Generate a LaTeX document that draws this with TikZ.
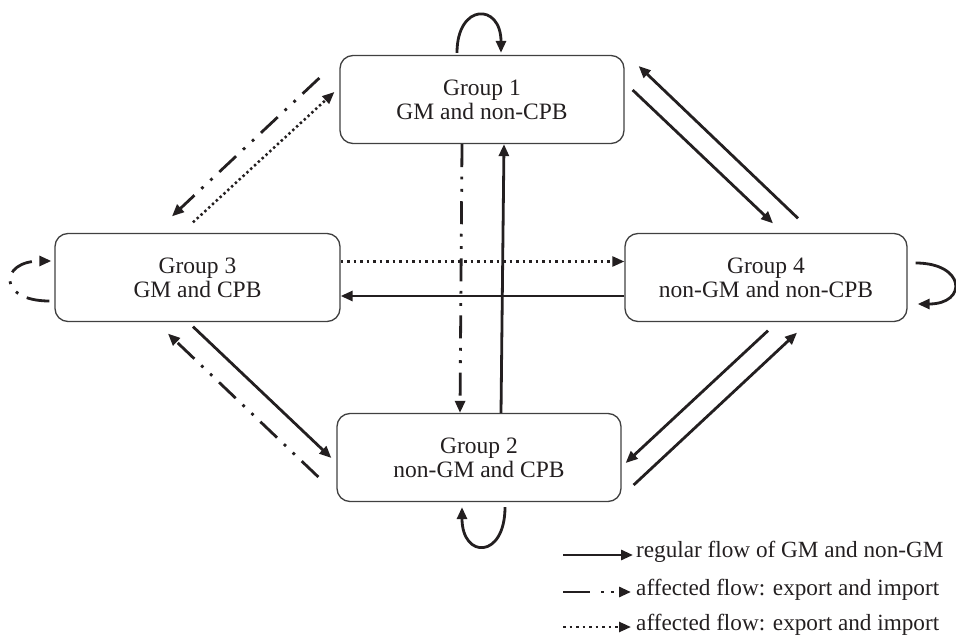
\documentclass[tikz,border=0pt]{standalone}
\usepackage{fontspec}
\setmainfont{Liberation Serif}
\usetikzlibrary{arrows.meta}
\definecolor{ink}{HTML}{231F20}
\definecolor{boxline}{HTML}{404040}
\tikzset{
  grp/.style={draw=boxline, line width=1.3pt, rounded corners=13pt,
    minimum width=284pt, minimum height=88pt, align=center,
    font=\fontsize{23.5}{24}\selectfont, text=ink, inner sep=0pt},
  flow/.style={draw=ink, line width=2.8pt, -{Triangle[length=12pt,width=10pt]}},
  solidflow/.style={flow},
  ddflow/.style={flow, dash pattern=on 23pt off 9.5pt on 2.8pt off 9.5pt on 2.8pt off 9.5pt},
  dotflow/.style={flow, line width=2.5pt, dash pattern=on 2.5pt off 4pt},
  dotdiag/.style={flow, line width=2.5pt, dash pattern=on 2.4pt off 2.8pt},
  legtext/.style={anchor=base west, font=\fontsize{23.2}{24}\selectfont, text=ink, inner sep=0pt},
}
\begin{document}
\begin{tikzpicture}[x=1pt,y=-1pt]
\useasboundingbox (0,0) rectangle (956,639);

\node[grp] (g1) at (482,99.5) {Group 1\\GM and non-CPB};
\node[grp] (g2) at (479,457.5) {Group 2\\non-GM and CPB};
\node[grp, minimum width=285pt] (g3) at (197.5,277.5) {Group 3\\GM and CPB};
\node[grp, minimum width=282pt] (g4) at (766,277.5) {Group 4\\non-GM and non-CPB};

% self loops
\draw[solidflow] ([xshift=-25pt,yshift=2pt]g1.north) .. controls +(0pt,50pt) and +(0pt,50pt) .. ([xshift=19pt,yshift=2pt]g1.north);
\draw[solidflow] ([xshift=26pt,yshift=-5pt]g2.south) .. controls +(0pt,-52pt) and +(0pt,-52pt) .. ([xshift=-17pt,yshift=-5pt]g2.south);
\draw[ddflow] ([xshift=-5pt,yshift=-23.5pt]g3.west) .. controls +(-52pt,0pt) and +(-52pt,0pt) .. ([xshift=-3pt,yshift=16.5pt]g3.west);
\draw[solidflow] ([xshift=8pt,yshift=14.5pt]g4.east) .. controls +(50pt,0pt) and +(50pt,0pt) .. ([xshift=10pt,yshift=-26.5pt]g4.east);

% Group 1 <-> Group 2
\draw[ddflow] ([xshift=-20pt]g1.south) -- ([xshift=-19pt]g2.north);
\draw[solidflow] ([xshift=22pt]g2.north) -- ([xshift=22pt]g1.south);

% Group 3 <-> Group 4
\draw[dotflow] ([yshift=16pt]g3.east) -- ([yshift=16pt]g4.west);
\draw[solidflow] ([yshift=-18.5pt]g4.west) -- ([yshift=-18.5pt]g3.east);

% Group 1 <-> Group 3
\draw[ddflow] ([xshift=-20pt,yshift=21.5pt]g1.west) -- ([xshift=-25.5pt,yshift=16.5pt]g3.north);
\draw[dotdiag] ([xshift=-4.5pt,yshift=10.5pt]g3.north) -- ([xshift=-5pt,yshift=7.5pt]g1.west);

% Group 1 <-> Group 4
\draw[solidflow] ([xshift=32pt,yshift=14.5pt]g4.north) -- ([xshift=14pt,yshift=33.5pt]g1.east);
\draw[solidflow] ([xshift=8pt,yshift=9.5pt]g1.east) -- ([xshift=7pt,yshift=9.5pt]g4.north);

% Group 4 <-> Group 2
\draw[solidflow] ([xshift=2pt,yshift=-8.5pt]g4.south) -- ([xshift=4pt,yshift=-5.5pt]g2.east);
\draw[solidflow] ([xshift=12pt,yshift=-27.5pt]g2.east) -- ([xshift=31pt,yshift=-10.5pt]g4.south);

% Group 3 <-> Group 2
\draw[solidflow] ([xshift=-4.5pt,yshift=-4.5pt]g3.south) -- ([xshift=-5pt,yshift=-0.5pt]g2.west);
\draw[ddflow] ([xshift=-18pt,yshift=-19.5pt]g2.west) -- ([xshift=-29.5pt,yshift=-11.5pt]g3.south);

% legend
\coordinate (l1s) at (563,555); \coordinate (l1e) at (633,555);
\coordinate (l2s) at (563,592); \coordinate (l2e) at (631,592);
\coordinate (l3s) at (563,627); \coordinate (l3e) at (631,627);
\node[legtext] (t1) at (636,557) {regular flow of GM and non-GM};
\node[legtext] (t2) at (636,595) {affected flow: export and import};
\node[legtext] (t3) at (636,630) {affected flow: export and import};
\draw[solidflow] (l1s) -- (l1e);
\draw[ddflow, dash pattern=on 27pt off 11pt on 2.8pt off 7pt on 2.8pt off 20pt] (l2s) -- (l2e);
\draw[dotflow] (l3s) -- (l3e);
\end{tikzpicture}
\end{document}
